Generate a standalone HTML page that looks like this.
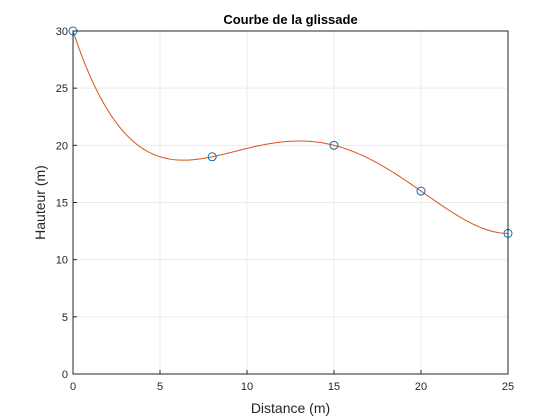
<!DOCTYPE html>
<html><head><meta charset="utf-8"><style>
html,body{margin:0;padding:0;background:#fff;}
svg{display:block;font-family:"Liberation Sans",sans-serif;}
</style></head><body>
<svg id="chart" width="560" height="420"></svg>
<script>
const xData=[0,8,15,20,25];
const yData=[30,19,20,16,12.3];
const xTicks=[0,5,10,15,20,25];
const yTicks=[0,5,10,15,20,25,30];
const L=73,R=508,T=31,B=374;
const sx=v=>L+(v/25)*(R-L);
const sy=v=>B-(v/30)*(B-T);
const svg=document.getElementById('chart');
const NS='http://www.w3.org/2000/svg';
function mk(tag,attrs,parent){const e=document.createElementNS(NS,tag);for(const k in attrs)e.setAttribute(k,attrs[k]);(parent||svg).appendChild(e);return e;}
const bg=mk('rect',{x:L,y:T,width:R-L,height:B-T,fill:'#fff'});


xTicks.forEach(t=>{const g=mk('line',{x1:sx(t),x2:sx(t),y1:T,y2:B,stroke:'#ebebeb','stroke-width':1});


const tk=mk('line',{x1:sx(t),x2:sx(t),y1:B,y2:B-4,stroke:'#262626'});


const lb=mk('text',{x:sx(t),y:B+16,'text-anchor':'middle','font-size':11,fill:'#262626'});lb.textContent=t;

});
yTicks.forEach(t=>{const g=mk('line',{x1:L,x2:R,y1:sy(t),y2:sy(t),stroke:'#ebebeb','stroke-width':1});


const tk=mk('line',{x1:L,x2:L+4,y1:sy(t),y2:sy(t),stroke:'#262626'});


const lb=mk('text',{x:L-5,y:sy(t)+4,'text-anchor':'end','font-size':11,fill:'#262626'});lb.textContent=t;

});
// Lagrange interpolating polynomial
function P(x){let s=0;for(let i=0;i<xData.length;i++){let p=yData[i];for(let j=0;j<xData.length;j++)if(j!==i)p*=(x-xData[j])/(xData[i]-xData[j]);s+=p;}return s;}
const n=xData.length;
let d='';for(let k=0;k<=250;k++){const x=xData[0]+(xData[n-1]-xData[0])*k/250;d+=(k?'L':'M')+sx(x).toFixed(2)+','+sy(P(x)).toFixed(2);}
const curve=mk('path',{d:d,fill:'none',stroke:'#d95319','stroke-width':1});


xData.forEach((x,i)=>{const c=mk('circle',{cx:sx(x),cy:sy(yData[i]),r:4,fill:'none',stroke:'#0072bd','stroke-width':1});

});
const box=mk('rect',{x:L,y:T,width:R-L,height:B-T,fill:'none',stroke:'#262626','stroke-width':1});


const title=mk('text',{x:(L+R)/2,y:24,'text-anchor':'middle','font-size':13,'font-weight':'bold',fill:'#000'});title.textContent='Courbe de la glissade';


const xl=mk('text',{x:(L+R)/2,y:413,'text-anchor':'middle','font-size':14,fill:'#262626'});xl.textContent='Distance (m)';


const yl=mk('text',{x:0,y:0,'text-anchor':'middle','font-size':14,fill:'#262626',transform:'translate(45,'+((T+B)/2)+') rotate(-90)'});yl.textContent='Hauteur (m)';


</script>
</body></html>
